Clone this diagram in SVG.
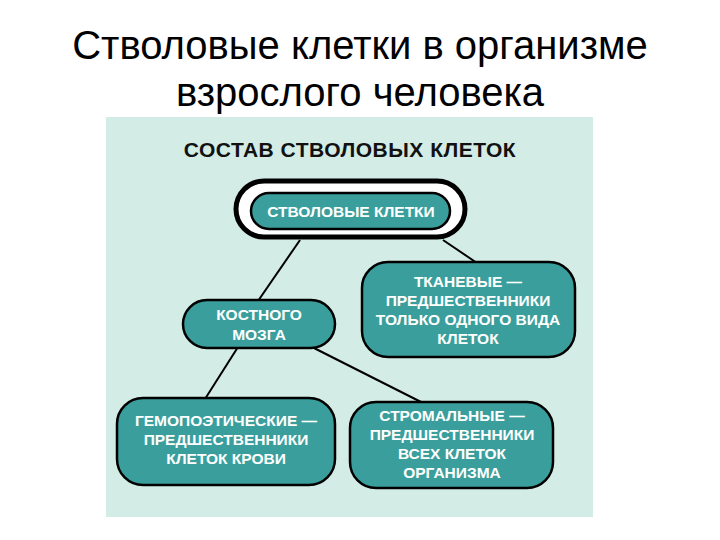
<svg xmlns="http://www.w3.org/2000/svg" width="720" height="540" viewBox="0 0 720 540">
<style>
.t{font-family:"Liberation Sans",Arial,sans-serif;font-size:40px;fill:#000;text-anchor:middle}
.b{fill:#3a9f9c;stroke:#000;stroke-width:2.5}
.w{font-family:"Liberation Sans",Arial,sans-serif;font-weight:bold;font-size:15.5px;fill:#fff;text-anchor:middle}
.c{stroke:#000;stroke-width:2;fill:none}
</style>
<rect width="720" height="540" fill="#fff"/>
<text class="t" x="360" y="59">Стволовые клетки в организме</text>
<text class="t" x="360" y="106">взрослого человека</text>
<rect x="106" y="117" width="487" height="400" fill="#d3ece6"/>
<text x="350" y="157" font-family="Liberation Sans,Arial,sans-serif" font-weight="bold" font-size="21" letter-spacing="0.5" text-anchor="middle" fill="#111">СОСТАВ  СТВОЛОВЫХ  КЛЕТОК</text>
<g id="connectors">
<line class="c" x1="300" y1="240" x2="258" y2="301"/>
<line class="c" x1="443" y1="240" x2="477" y2="263"/>
<line class="c" x1="238" y1="347" x2="205" y2="399"/>
<line class="c" x1="310" y1="346" x2="423" y2="403"/>
</g>
<g id="n1">
<rect x="236" y="181" width="229" height="56" rx="28" fill="#fff" stroke="#000" stroke-width="5"/>
<rect class="b" x="251" y="193" width="199" height="36" rx="18"/>
<text class="w" x="351" y="217">СТВОЛОВЫЕ КЛЕТКИ</text>
</g>
<g id="n2">
<rect class="b" x="183" y="300" width="152" height="48" rx="24"/>
<text class="w" x="259" y="320">КОСТНОГО</text>
<text class="w" x="259" y="340">МОЗГА</text>
</g>
<g id="n3">
<rect class="b" x="362" y="262" width="213" height="95" rx="26"/>
<text class="w" x="468" y="287">ТКАНЕВЫЕ —</text>
<text class="w" x="468" y="306">ПРЕДШЕСТВЕННИКИ</text>
<text class="w" x="468" y="325">ТОЛЬКО ОДНОГО ВИДА</text>
<text class="w" x="468" y="344">КЛЕТОК</text>
</g>
<g id="n4">
<rect class="b" x="117" y="398" width="218" height="87" rx="26"/>
<text class="w" x="226" y="426">ГЕМОПОЭТИЧЕСКИЕ —</text>
<text class="w" x="226" y="445">ПРЕДШЕСТВЕННИКИ</text>
<text class="w" x="226" y="464">КЛЕТОК КРОВИ</text>
</g>
<g id="n5">
<rect class="b" x="350" y="402" width="203" height="86" rx="26"/>
<text class="w" x="452" y="421">СТРОМАЛЬНЫЕ —</text>
<text class="w" x="452" y="440">ПРЕДШЕСТВЕННИКИ</text>
<text class="w" x="452" y="459">ВСЕХ КЛЕТОК</text>
<text class="w" x="452" y="478">ОРГАНИЗМА</text>
</g>
</svg>
